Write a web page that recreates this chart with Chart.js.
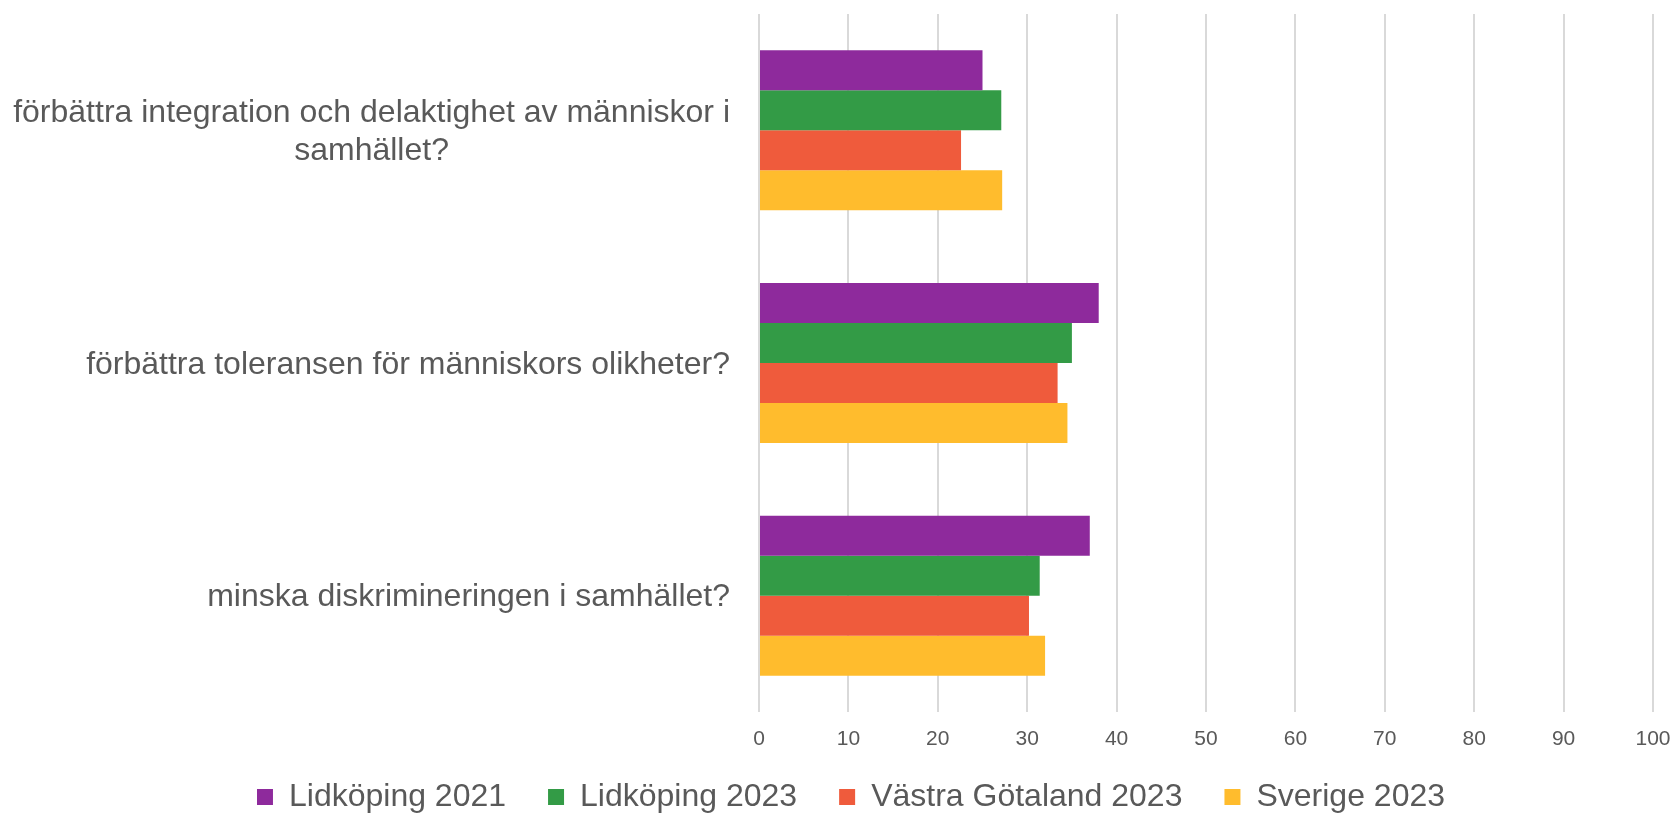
<!DOCTYPE html>
<html>
<head>
<meta charset="utf-8">
<script src="https://cdn.jsdelivr.net/npm/chart.js"></script>
<style>
  html, body { margin: 0; padding: 0; background: #fff; }
  #wrap { position: relative; width: 1677px; height: 813px; }
</style>
</head>
<body>
<div id="wrap"><canvas id="myChart"></canvas></div>
<script>
'use strict';

var categories = [
  ['förbättra integration och delaktighet av människor i', 'samhället?'],
  'förbättra toleransen för människors olikheter?',
  'minska diskrimineringen i samhället?'
];
var seriesNames = ['Lidköping 2021', 'Lidköping 2023', 'Västra Götaland 2023', 'Sverige 2023'];
var lidkoping2021 = [25.0, 38.0, 37.0];
var lidkoping2023 = [27.1, 35.0, 31.4];
var vastraGotaland2023 = [22.6, 33.4, 30.2];
var sverige2023 = [27.2, 34.5, 32.0];
var xTicks = [0, 10, 20, 30, 40, 50, 60, 70, 80, 90, 100];

var colors = ['#8E2A9C', '#339B46', '#EF5B3C', '#FFBC2D'];
var textColor = '#595959';
var fontFamily = "'Liberation Sans', Arial, sans-serif";

var values = [lidkoping2021, lidkoping2023, vastraGotaland2023, sverige2023];
var datasets = seriesNames.map(function (name, i) {
  return {
    label: name,
    data: values[i],
    backgroundColor: colors[i],
    borderWidth: 0,
    categoryPercentage: 0.6875,
    barPercentage: 1
  };
});

// legend sits a bit right of the canvas centre and close to the bottom edge
var placeLegend = {
  id: 'placeLegend',
  afterLayout: function (chart) {
    var lg = chart.legend;
    lg.left = 49;
    lg.top = 739;
    lg.bottom = 813;
    lg.height = 74;
  }
};

// center the wrapped lines of a multi-line category label under its widest line
var centerMultiLine = {
  id: 'centerMultiLine',
  beforeDraw: function (chart) {
    var scale = chart.scales.y;
    var items = scale.getLabelItems();
    var ctx = chart.ctx;
    items.forEach(function (item) {
      if (item._moved) return;
      item._moved = true;
      item.options.translation[1] += 2;
      if (Array.isArray(item.label) && item.label.length > 1) {
        ctx.save();
        ctx.font = item.font.string;
        var w = Math.max.apply(null, item.label.map(function (t) { return ctx.measureText(t).width; }));
        ctx.restore();
        item.options.textAlign = 'center';
        item.options.translation[0] -= w / 2;
      }
    });
  }
};

var ctx = document.getElementById('myChart');
var myChart = new Chart(ctx, {
  type: 'bar',
  data: { labels: categories, datasets: datasets },
  plugins: [placeLegend, centerMultiLine],
  options: {
    indexAxis: 'y',
    responsive: true,
    maintainAspectRatio: false,
    animation: false,
    layout: { padding: { top: 14, right: 24, bottom: 0, left: 0 } },
    plugins: {
      tooltip: { enabled: false },
      legend: {
        position: 'bottom',
        maxHeight: 51,
        labels: {
          boxWidth: 16,
          boxHeight: 16,
          padding: 42,
          color: textColor,
          font: { family: fontFamily, size: 32 }
        }
      }
    },
    scales: {
      x: {
        min: 0,
        max: 100,
        afterBuildTicks: function (scale) {
          scale.ticks = xTicks.map(function (v) { return { value: v }; });
        },
        afterFit: function (scale) {
          scale.height = 50;
          scale.paddingLeft = 0;
          scale.paddingRight = 0;
        },
        grid: { color: '#D9D9D9', lineWidth: 2, drawTicks: false },
        border: { display: false },
        ticks: {
          padding: 15,
          color: textColor,
          font: { family: fontFamily, size: 21 }
        }
      },
      y: {
        afterFit: function (scale) {
          scale.width = 759;
          scale.paddingTop = 0;
          scale.paddingBottom = 0;
        },
        grid: { display: false, drawTicks: false },
        border: { display: false },
        ticks: {
          padding: 29,
          color: textColor,
          font: { family: fontFamily, size: 32, lineHeight: 1.2 }
        }
      }
    }
  }
});
</script>
</body>
</html>
